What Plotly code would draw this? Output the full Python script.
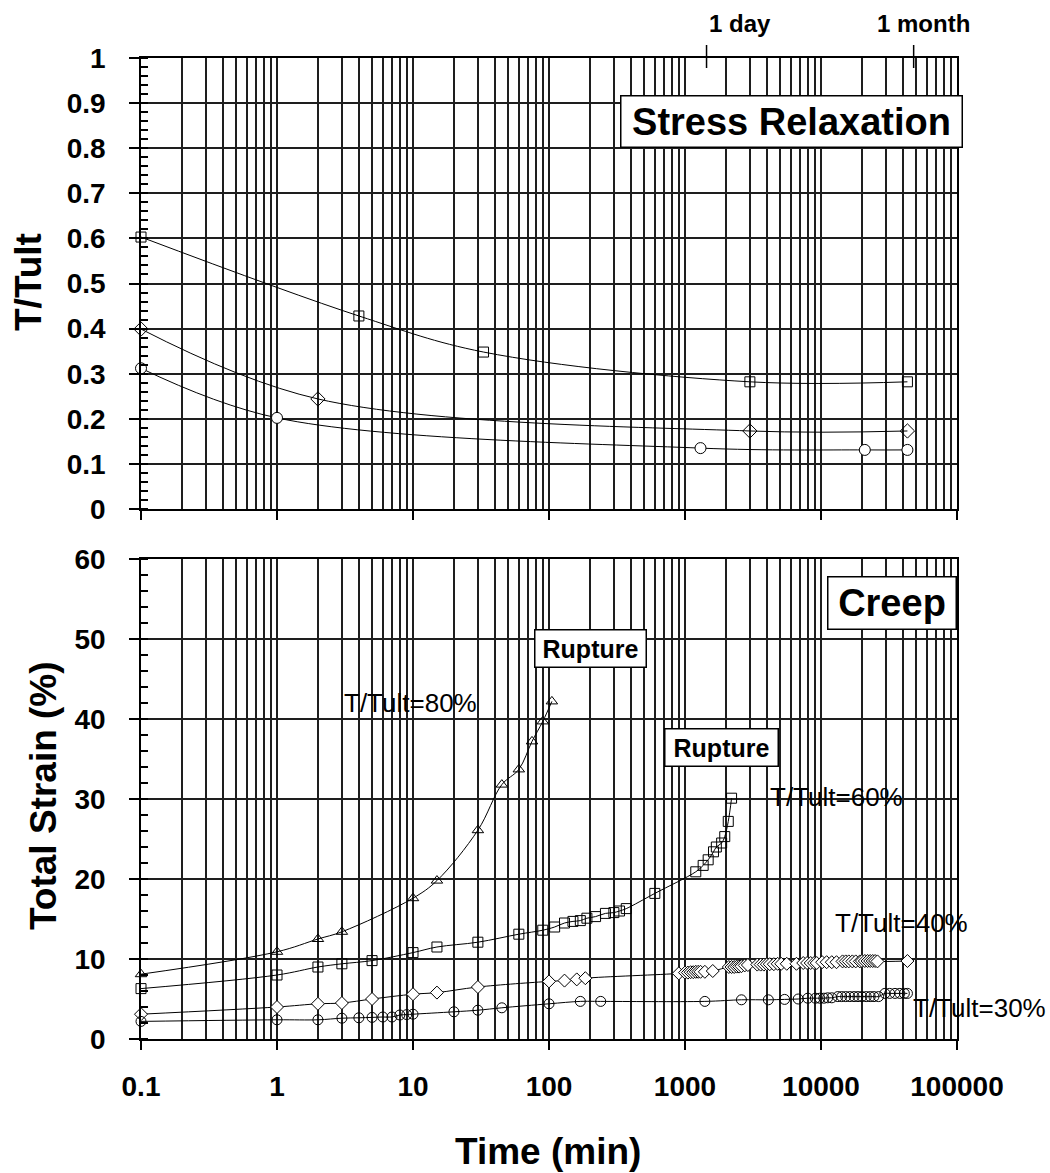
"""Stress relaxation (T/Tult vs time) and creep (total strain vs time) on log time axes."""

import plotly.graph_objects as go

W, H = 1050, 1173
FONT = "Liberation Sans, Arial, sans-serif"
GRID = "#1e1e1e"

# ── Stress relaxation data (time in min, T/Tult) ─────────────────────────────
RELAX_T_SQ = [0.1, 4, 33, 3000, 43200]
RELAX_SQ = [0.603, 0.428, 0.348, 0.282, 0.282]

RELAX_T_DI = [0.1, 2, 3000, 43200]
RELAX_DI = [0.399, 0.244, 0.173, 0.173]

RELAX_T_CI = [0.1, 1, 1300, 21000, 43200]
RELAX_CI = [0.312, 0.202, 0.135, 0.131, 0.131]

# ── Creep data (time in min, total strain %) ─────────────────────────────────
CREEP_T_80 = [0.1, 1, 2, 3, 10, 15, 30, 45, 60, 75, 90, 105]
CREEP_80 = [8.1, 10.9, 12.5, 13.4, 17.6, 19.8, 26.1, 31.8, 33.7, 37.2, 39.7, 42.2]

CREEP_T_60 = [0.1, 1, 2, 3, 5, 10, 15, 30, 60, 90, 110, 130, 150, 170, 190,
              220, 260, 300, 330, 370, 600, 1200, 1360, 1480, 1620, 1700,
              1860, 1960, 2080, 2200]
CREEP_60 = [6.3, 8.0, 9.0, 9.4, 9.8, 10.8, 11.5, 12.1, 13.1, 13.6, 14.0, 14.5,
            14.7, 14.8, 15.1, 15.3, 15.7, 15.8, 16.0, 16.3, 18.2, 20.9, 21.7,
            22.4, 23.4, 24.0, 24.5, 25.3, 27.2, 30.1]

CREEP_T_40 = [0.1, 1, 2, 3, 5, 10, 15, 30, 100, 130, 160, 185, 900, 1000,
              1050, 1100, 1150, 1200, 1250, 1300, 1400, 1600, 2100, 2200, 2300,
              2400, 2500, 2600, 2750, 2900, 3400, 3600, 3800, 4000, 4200, 4500,
              4800, 5100, 5600, 6600, 7400, 7900, 8400, 8900, 9300, 10200,
              11000, 12000, 13000, 14400, 15200, 16000, 17000, 18000, 19300,
              20000, 21000, 22000, 23000, 24000, 25000, 26000, 43200]
CREEP_40 = [3.1, 4.0, 4.4, 4.5, 5.0, 5.6, 5.8, 6.5, 7.2, 7.3, 7.45, 7.6, 8.2,
            8.3, 8.3, 8.35, 8.35, 8.4, 8.4, 8.4, 8.4, 8.5, 9.0, 9.0, 9.0, 9.05,
            9.05, 9.1, 9.2, 9.25, 9.3, 9.3, 9.3, 9.35, 9.35, 9.35, 9.4, 9.4,
            9.4, 9.4, 9.5, 9.5, 9.5, 9.5, 9.5, 9.6, 9.6, 9.6, 9.6, 9.7, 9.7,
            9.7, 9.7, 9.7, 9.7, 9.75, 9.75, 9.75, 9.75, 9.75, 9.75, 9.7, 9.75]

CREEP_T_30 = [0.1, 1, 2, 3, 4, 5, 6, 7, 8, 9, 10, 20, 30, 45, 100, 170, 240,
              1400, 2600, 4100, 5400, 6800, 8000, 9100, 9800, 10500, 11200,
              12000, 13300, 14200, 15200, 16300, 17500, 18700, 20000, 21500,
              23000, 24500, 26500, 29500, 32000, 35000, 38000, 41000, 43200]
CREEP_30 = [2.2, 2.4, 2.4, 2.6, 2.65, 2.7, 2.75, 2.75, 3.0, 3.05, 3.1, 3.4,
            3.6, 3.9, 4.4, 4.7, 4.7, 4.7, 4.9, 4.9, 4.95, 5.0, 5.1, 5.1, 5.1,
            5.1, 5.15, 5.15, 5.3, 5.3, 5.3, 5.3, 5.3, 5.3, 5.3, 5.3, 5.3, 5.3,
            5.3, 5.7, 5.7, 5.7, 5.7, 5.7, 5.7]

X_TICKS = [0.1, 1, 10, 100, 1000, 10000, 100000]
X_LABELS = ["0.1", "1", "10", "100", "1000", "10000", "100000"]

# time markers above the relaxation panel
MARK_T = [1440, 48000]
MARK_LABELS = ["1 day", "1 month"]


def _px(x, y):
    """Pixel position -> paper coordinates."""
    return x / W, 1 - y / H


def _series(x, y, symbol, size, xa, ya, fill=None):
    return go.Scatter(
        x=x, y=y, xaxis=xa, yaxis=ya,
        mode="lines+markers",
        line=dict(color="black", width=1, shape="spline", smoothing=1.0),
        marker=dict(symbol=symbol, size=size, color=fill or "black",
                    line=dict(color="black", width=1)),
        cliponaxis=False,
        showlegend=False,
        hoverinfo="x+y",
    )


fig = go.Figure()

# ── Stress relaxation traces ─────────────────────────────────────────────────
fig.add_trace(_series(RELAX_T_SQ, RELAX_SQ, "square-open", 10, "x", "y"))
fig.add_trace(_series(RELAX_T_DI, RELAX_DI, "diamond-open", 11, "x", "y"))
fig.add_trace(_series(RELAX_T_CI, RELAX_CI, "circle", 11, "x", "y", fill="white"))

# ── Creep traces ─────────────────────────────────────────────────────────────
fig.add_trace(_series(CREEP_T_80, CREEP_80, "triangle-up-open", 10, "x2", "y2"))
fig.add_trace(_series(CREEP_T_60, CREEP_60, "square-open", 10, "x2", "y2"))
fig.add_trace(_series(CREEP_T_40, CREEP_40, "diamond", 10, "x2", "y2", fill="white"))
fig.add_trace(_series(CREEP_T_30, CREEP_30, "circle-open", 10, "x2", "y2"))

# ── Axes ─────────────────────────────────────────────────────────────────────
x_dom = [141 / W, 957 / W]
top_dom = [1 - 509 / H, 1 - 58 / H]
bot_dom = [1 - 1039 / H, 1 - 559 / H]

xcommon = dict(
    type="log", range=[-1, 5], domain=x_dom, automargin=False,
    tickvals=X_TICKS, ticktext=X_LABELS,
    showgrid=True, gridcolor=GRID, gridwidth=1.5,
    minor=dict(dtick="D1", showgrid=True, gridcolor=GRID, gridwidth=1.5),
    showline=True, linecolor="black", linewidth=1.5, mirror=True,
    ticks="outside", ticklen=9, tickwidth=1.5, tickcolor="black",
    tickfont=dict(family=FONT, size=28, color="black", weight="bold"),
    zeroline=False,
)
ycommon = dict(
    automargin=False,
    showgrid=True, gridcolor=GRID, gridwidth=1.5,
    showline=True, linecolor="black", linewidth=1.5, mirror=True,
    ticks="outside", ticklen=10, tickwidth=1.5, tickcolor="black",
    ticklabelstandoff=18,
    tickfont=dict(family=FONT, size=28, color="black", weight="bold"),
    zeroline=False,
)

fig.update_layout(
    xaxis=dict(xcommon, anchor="y", showticklabels=False),
    xaxis2=dict(xcommon, anchor="y2", ticklabelstandoff=13),
    yaxis=dict(ycommon, domain=top_dom, anchor="x", range=[0, 1],
               tick0=0, dtick=0.1,
               minor=dict(dtick=0.02, ticks="inside", ticklen=7,
                          tickwidth=1.5, tickcolor="black", showgrid=False)),
    yaxis2=dict(ycommon, domain=bot_dom, anchor="x2", range=[0, 60],
                tick0=0, dtick=10,
                minor=dict(dtick=2, ticks="inside", ticklen=7,
                           tickwidth=1.5, tickcolor="black", showgrid=False)),
)

# ── Text ─────────────────────────────────────────────────────────────────────
annotations = []


def _text(text, cx, cy, size, bold=True, angle=0, box=None):
    x, y = _px(cx, cy)
    a = dict(
        text=text, x=x, y=y, xref="paper", yref="paper",
        xanchor="center", yanchor="middle", showarrow=False,
        textangle=angle,
        font=dict(family=FONT, size=size, color="black",
                  weight="bold" if bold else "normal"),
    )
    if box:
        a.update(width=box[0], height=box[1], bgcolor="white",
                 bordercolor="black", borderwidth=1.5, borderpad=0)
    annotations.append(a)


_text("T/Tult", 28, 282, 37, angle=-90)
_text("Total Strain (%)", 43, 796, 37, angle=-90)
_text("Time (min)", 548, 1151, 37)

_text("Stress Relaxation", 791, 122, 38, box=(340, 50))
_text("Creep", 892, 603, 38, box=(127, 51))
_text("Rupture", 590, 648, 25, box=(110, 36))
_text("Rupture", 721, 747, 25, box=(112, 36))

_text("T/Tult=80%", 410, 703, 26, bold=False)
_text("T/Tult=60%", 836, 797, 26, bold=False)
_text("T/Tult=40%", 901, 923, 26, bold=False)
_text("T/Tult=30%", 979, 1008, 26, bold=False)

_text(MARK_LABELS[0], 740, 23, 24)
_text(MARK_LABELS[1], 923, 23, 24)

shapes = []
for t in MARK_T:
    shapes.append(dict(
        type="line", xref="x", yref="paper",
        x0=t, x1=t, y0=_px(0, 45)[1], y1=_px(0, 68)[1],
        line=dict(color="black", width=1.5),
    ))

fig.update_layout(
    width=W, height=H, autosize=False,
    margin=dict(l=0, r=0, t=0, b=0),
    paper_bgcolor="white", plot_bgcolor="white",
    showlegend=False,
    annotations=annotations,
    shapes=shapes,
)

# drop the default 8px page margin so the figure sits at the window's corner
fig.write_html("out.html", config={"displayModeBar": False},
               post_script="document.body.style.margin = '0';")
